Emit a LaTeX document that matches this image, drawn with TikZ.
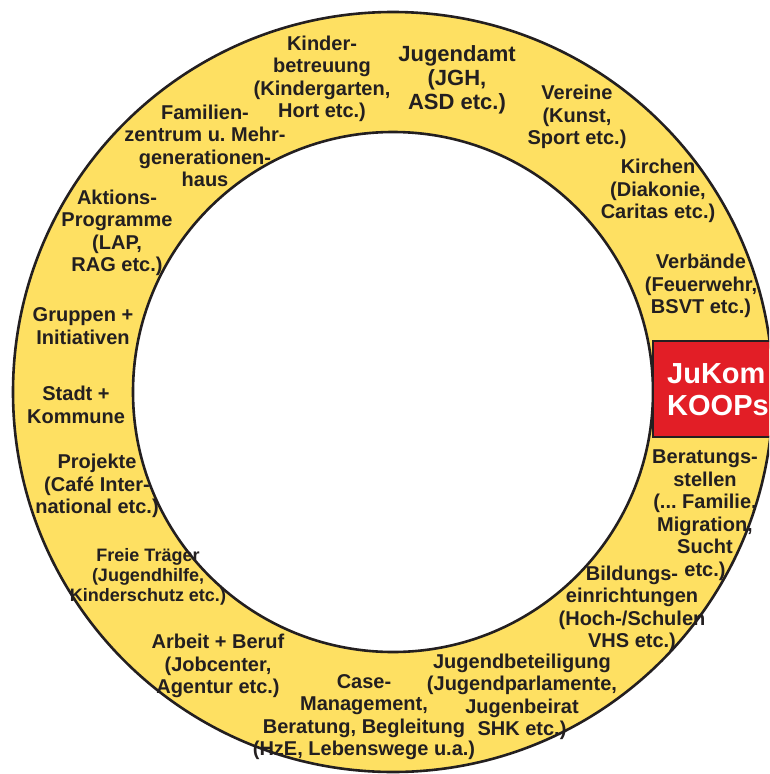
\documentclass[tikz,border=0pt]{standalone}
\usepackage{fontspec}
\setmainfont{Liberation Sans}
\frenchspacing
\definecolor{ringyellow}{RGB}{254,224,98}
\definecolor{kred}{RGB}{226,30,38}
\definecolor{kdark}{RGB}{35,31,32}
\tikzset{field/.style={align=center, inner sep=0pt, text=kdark, font=\bfseries\fontsize{20}{22.5}\selectfont}}
\begin{document}
\begin{tikzpicture}[x=1pt, y=-1pt,
    ring/.style={draw=kdark, line width=2.6pt},
    bigfield/.style={field, font=\bfseries\fontsize{22}{24}\selectfont},
    smallfield/.style={field, font=\bfseries\fontsize{18}{20}\selectfont},
    koop/.style={fill=kred, draw=kdark, line width=2pt},
]
\useasboundingbox (0,0) rectangle (769,774);
\clip (0,0) rectangle (769,774);
\coordinate (mid) at (393,392);

% ring
\fill[ringyellow, even odd rule] (mid) circle (380pt) (mid) circle (260pt);
\draw[ring] (mid) circle (380pt);
\draw[ring] (mid) circle (260pt);

% JuKom box
\draw[koop] (653,341) rectangle (800,437);
\node[anchor=west, align=left, inner sep=0pt, text=white, font=\bfseries\fontsize{29}{32}\selectfont] (jukom) at (667,390) {JuKom\\KOOPs};

% partners
\node[field] (kinder) at (322,79) {Kinder-\\betreuung\\(Kindergarten,\\Hort etc.)};
\node[bigfield] (jugendamt) at (457,80) {Jugendamt\\(JGH,\\ASD etc.)};
\node[field] (vereine) at (577,117) {Vereine\\(Kunst,\\Sport etc.)};
\node[field] (kirchen) at (658,191) {Kirchen\\(Diakonie,\\Caritas etc.)};
\node[field] (verbaende) at (701,286) {Verbände\\(Feuerwehr,\\BSVT etc.)};
\node[field] (beratung) at (705,515) {Beratungs-\\stellen\\(... Familie,\\Migration,\\Sucht\\etc.)};
\node[field] (bildung) at (632,609) {Bildungs-\\einrichtungen\\(Hoch-/Schulen\\VHS etc.)};
\node[field] (jugendbet) at (522,697) {Jugendbeteiligung\\(Jugendparlamente,\\Jugenbeirat\\SHK etc.)};
\node[field] (case) at (364,717) {Case-\\Management,\\Beratung, Begleitung\\(HzE, Lebenswege u.a.)};
\node[field] (arbeit) at (218,666) {Arbeit + Beruf\\(Jobcenter,\\Agentur etc.)};
\node[smallfield] (traeger) at (148,577) {Freie Träger\\(Jugendhilfe,\\Kinderschutz etc.)};
\node[field] (projekte) at (97,486) {Projekte\\(Café Inter-\\national etc.)};
\node[field] (stadt) at (76,405) {Stadt +\\Kommune};
\node[field] (gruppen) at (83,326) {Gruppen +\\Initiativen};
\node[field] (aktion) at (117,233) {Aktions-\\Programme\\(LAP,\\RAG etc.)};
\node[field] (familie) at (205,146) {Familien-\\zentrum u. Mehr-\\generationen-\\haus};
\end{tikzpicture}
\end{document}
